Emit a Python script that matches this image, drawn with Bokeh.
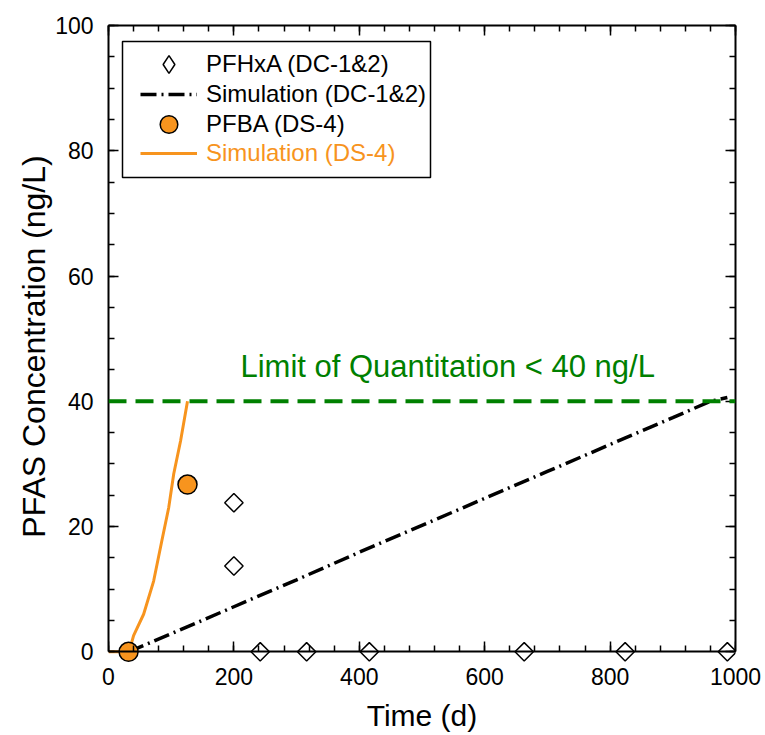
import numpy as np
from bokeh.plotting import figure
from bokeh.models import (Range1d, SingleIntervalTicker, LinearAxis, Legend, LegendItem,
                          Label, Span, CustomJSTickFormatter, BoxAnnotation)
from bokeh.embed import file_html
from bokeh.resources import INLINE

# ---- data ----
pfhxa_t = [200, 200, 242, 316, 416, 663, 824, 987]
pfhxa_c = [23.8, 13.7, 0, 0, 0, 0, 0, 0]

pfba_t = [32, 126]
pfba_c = [0, 26.7]

sim_dc_t = [32, 100, 200, 300, 400, 500, 600, 700, 800, 900, 960, 987]
sim_dc_c = [0, 2.9, 7.2, 11.5, 15.9, 20.2, 24.5, 28.8, 33.1, 37.4, 40.0, 40.6]

sim_ds_t = [0, 30, 35, 40, 56, 72, 85, 96, 104, 115, 126]
sim_ds_c = [0, 0, 0.8, 2.6, 6.0, 11.3, 17.7, 23.0, 28.4, 33.7, 40.0]

loq = 40
loq_label = "Limit of Quantitation < 40 ng/L"

legend_labels = ["PFHxA (DC-1&2)", "Simulation (DC-1&2)", "PFBA (DS-4)", "Simulation (DS-4)"]

FONT = "Liberation Sans"
ORANGE = "#F7941E"
GREEN = "#008000"

# frame extends slightly below 0 so markers sitting on the axis are not clipped
p = figure(width=765, height=735, output_backend="svg", toolbar_location=None,
           x_range=Range1d(0, 1000), y_range=Range1d(-2.5, 100),
           min_border_left=108, min_border_right=30, min_border_top=25, min_border_bottom=68)
p.grid.visible = False
p.outline_line_color = None
p.background_fill_color = "white"
p.border_fill_color = "white"

xt = SingleIntervalTicker(interval=200, num_minor_ticks=5)
yt = SingleIntervalTicker(interval=20, num_minor_ticks=4)

def style_axis(ax, labels=True):
    ax.axis_line_width = 2
    ax.major_tick_in = 10
    ax.major_tick_out = 0
    ax.minor_tick_in = 6
    ax.minor_tick_out = 0
    ax.major_tick_line_width = 1.5
    ax.minor_tick_line_width = 1.5
    ax.major_label_text_font = FONT
    ax.major_label_text_font_size = "23px"
    ax.major_label_text_color = "black"
    ax.axis_label_text_font = FONT
    ax.axis_label_text_font_style = "normal"
    ax.axis_label_text_color = "black"
    if not labels:
        ax.formatter = CustomJSTickFormatter(code="return ''")
        ax.major_label_standoff = 0

# bottom axis: labels + title (its own line/ticks hidden)
p.xaxis.ticker = xt
p.xaxis.axis_label = "Time (d)"
style_axis(p.xaxis[0])
p.xaxis.axis_line_color = None
p.xaxis.major_tick_line_color = None
p.xaxis.minor_tick_line_color = None
p.xaxis.axis_label_text_font_size = "30px"
p.xaxis.major_label_standoff = 0
p.xaxis.axis_label_standoff = 11

# axis line and ticks at y = 0
x0_axis = LinearAxis(ticker=xt, fixed_location=0)
style_axis(x0_axis, labels=False)
p.add_layout(x0_axis, "below")

p.yaxis.ticker = yt
p.yaxis.axis_label = "PFAS Concentration (ng/L)"
style_axis(p.yaxis[0])
p.yaxis.bounds = (0, 100)
p.yaxis.axis_label_text_font_size = "32px"
p.yaxis.major_label_standoff = 15
p.yaxis.axis_label_standoff = 0

top = LinearAxis(ticker=xt)
right = LinearAxis(ticker=yt, bounds=(0, 100))
style_axis(top, labels=False)
style_axis(right, labels=False)
p.add_layout(top, "above")
p.add_layout(right, "right")

# LOQ line
p.add_layout(Span(location=loq, dimension="width", line_color=GREEN, line_width=4,
                  line_dash="18 9"))
p.add_layout(Label(x=541, y=45.6, text=loq_label,
                   text_align="center", text_baseline="alphabetic",
                   text_font=FONT, text_font_size="31px", text_color=GREEN))

r_sim_ds = p.line(sim_ds_t, sim_ds_c, line_color=ORANGE, line_width=3)
r_sim_dc = p.line(sim_dc_t, sim_dc_c, line_color="black", line_width=3.5, line_dash="16 5 2 5")
r_pfhxa = p.scatter(pfhxa_t, pfhxa_c, marker="square", size=13, angle=np.pi / 4,
                    fill_color="white", line_color="black", line_width=1.5)
r_pfba = p.scatter(pfba_t, pfba_c, marker="circle", size=19,
                   fill_color=ORANGE, line_color="black", line_width=1.5)
# legend-only symbol (hidden renderer) for the diamond
r_pfhxa_leg = p.scatter(pfhxa_t, pfhxa_c, marker="diamond", size=13,
                        fill_color="white", line_color="black", line_width=1.5, visible=False)

# legend frame
p.add_layout(BoxAnnotation(left=122, right=430, top=41, bottom=177,
                           left_units="canvas", right_units="canvas",
                           top_units="canvas", bottom_units="canvas",
                           fill_color="white", fill_alpha=1,
                           line_color="black", line_width=1.5, line_alpha=1))

legend_renderers = [r_pfhxa_leg, r_sim_dc, r_pfba, r_sim_ds]
legend_colors = ["black", "black", "black", ORANGE]
legend_y = [581, 551, 521, 492]
for lab, rr, col, ly in zip(legend_labels, legend_renderers, legend_colors, legend_y):
    lg = Legend(items=[LegendItem(label=lab, renderers=[rr])])
    lg.location = (32, ly)
    lg.label_text_font = FONT
    lg.label_text_font_size = "24px"
    lg.label_text_color = col
    lg.glyph_width = 57
    lg.glyph_height = 44
    lg.label_height = 44
    lg.label_standoff = 9
    lg.padding = 0
    lg.margin = 0
    lg.spacing = 0
    lg.border_line_color = None
    lg.background_fill_alpha = 0
    p.add_layout(lg, "center")

open("out.html", "w").write(file_html(p, INLINE))
